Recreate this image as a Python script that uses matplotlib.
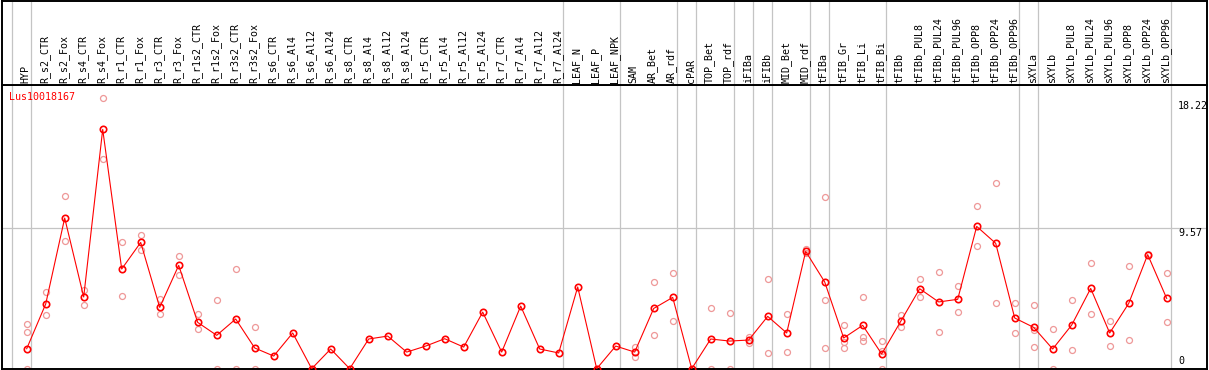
import numpy as np
import matplotlib
matplotlib.use("Agg")
import matplotlib.pyplot as plt

gene = "Lus10018167"

samples = ["HYP", "R_s2_CTR", "R_s2_Fox", "R_s4_CTR", "R_s4_Fox", "R_r1_CTR", "R_r1_Fox",
           "R_r3_CTR", "R_r3_Fox", "R_r1s2_CTR", "R_r1s2_Fox", "R_r3s2_CTR", "R_r3s2_Fox",
           "R_s6_CTR", "R_s6_Al4", "R_s6_Al12", "R_s6_Al24", "R_s8_CTR", "R_s8_Al4",
           "R_s8_Al12", "R_s8_Al24", "R_r5_CTR", "R_r5_Al4", "R_r5_Al12", "R_r5_Al24",
           "R_r7_CTR", "R_r7_Al4", "R_r7_Al12", "R_r7_Al24", "LEAF_N", "LEAF_P", "LEAF_NPK",
           "SAM", "AR_Bet", "AR_rdf", "cPAR", "TOP_Bet", "TOP_rdf", "iFIBa", "iFIBb",
           "MID_Bet", "MID_rdf", "tFIBa", "tFIB_Gr", "tFIB_Li", "tFIB_Bi", "tFIBb",
           "tFIBb_PUL8", "tFIBb_PUL24", "tFIBb_PUL96", "tFIBb_OPP8", "tFIBb_OPP24",
           "tFIBb_OPP96", "sXYLa", "sXYLb", "sXYLb_PUL8", "sXYLb_PUL24", "sXYLb_PUL96",
           "sXYLb_OPP8", "sXYLb_OPP24", "sXYLb_OPP96"]

means = [1.36, 4.40, 10.25, 4.88, 16.28, 6.78, 8.59, 4.17, 7.03, 3.15, 2.27, 3.38, 1.41,
         0.86, 2.43, 0.0, 1.34, 0.0, 2.02, 2.22, 1.13, 1.54, 2.04, 1.47, 3.85, 1.13, 4.26,
         1.34, 1.07, 5.56, 0.0, 1.54, 1.13, 4.10, 4.85, 0.0, 2.02, 1.88, 1.95, 3.56, 2.43,
         7.98, 5.90, 2.09, 2.95, 1.00, 3.22, 5.44, 4.54, 4.72, 9.68, 8.53, 3.45, 2.81, 1.34,
         2.97, 5.46, 2.43, 4.44, 7.76, 4.78]

# replicate values per sample (empty = none shown)
replicates = [[3.04, 2.47, 0.0], [5.22, 3.63], [11.72, 8.66], [5.35, 4.33], [18.39, 14.26],
              [8.59, 4.92], [9.09, 8.05], [4.74, 3.70], [7.64, 6.35], [3.70, 2.68],
              [4.67, 0.0], [6.76, 0.0], [2.83, 0.0], [], [], [], [], [], [], [], [], [],
              [], [], [], [], [], [], [], [], [], [],
              [1.50, 0.77], [5.90, 2.27], [6.51, 3.24], [], [4.10, 0.0], [3.79, 0.0],
              [2.13, 1.77], [6.08, 1.04], [3.70, 1.11], [8.14, 7.87], [11.66, 4.67, 1.41],
              [2.95, 1.81, 1.41], [4.85, 2.18, 1.88], [1.88, 1.22, 0.0], [3.65, 2.83],
              [6.08, 4.85], [6.55, 2.49], [5.60, 3.83], [11.07, 8.37], [12.61, 4.44],
              [4.44, 2.40], [4.31, 2.63, 1.45], [2.68, 0.0], [4.67, 1.25], [7.19, 3.70],
              [3.24, 1.54], [6.98, 1.93], [7.80], [6.51, 3.15]]

# grey separators come after these sample indices
group_ends = [-1, 0, 28, 31, 34, 35, 37, 38, 39, 41, 42, 45, 52, 53, 60]

y_labels = [18.22, 9.57, 0]

W, H = 1209, 370
fig = plt.figure(figsize=(W / 100, H / 100), dpi=100)
mono = "DejaVu Sans Mono"
fs = 7.2

# pixel layout
left_px, right_px = 1.5, 1207
head_px, bottom_px = 85, 369
x0_px, step = 26.7, 19.0
xmin = (left_px - x0_px) / step
xmax = (right_px - x0_px) / step
zero_px, scale = 368.7, 14.7
ymin = (zero_px - bottom_px) / scale
ymax = (zero_px - head_px) / scale

ax = fig.add_axes([left_px / W, (H - bottom_px) / H, (right_px - left_px) / W,
                   (bottom_px - head_px) / H])
hx = fig.add_axes([left_px / W, (H - head_px) / H, (right_px - left_px) / W,
                   (head_px - 0.5) / H])

for a in (ax, hx):
    a.set_xlim(xmin, xmax)
    a.set_xticks([])
    a.set_yticks([])
    for s in a.spines.values():
        s.set_color("black")
        s.set_linewidth(1.4)
    for g in group_ends:
        a.axvline(g + 4 / step, color="#c4c4c4", lw=0.9, zorder=0)

ax.set_ylim(ymin, ymax)
hx.set_ylim(0, 1)
ax.axhline(9.57, color="#c4c4c4", lw=0.9, zorder=0)

x = np.arange(len(samples))
for i, reps in enumerate(replicates):
    if reps:
        ax.plot([i] * len(reps), reps, "o", ms=4.3, mfc="none", mec="#ee9898", mew=0.9,
                zorder=2)
ax.plot(x, means, "-", color="red", lw=0.8, zorder=3)
ax.plot(x, means, "o", ms=4.6, mfc="none", mec="red", mew=1.2, zorder=4)

for i, name in enumerate(samples):
    hx.text(i - 0.05, 2 / (head_px - 0.5), name, rotation=90, ha="center", va="bottom",
            family=mono, fontsize=fs, color="black")

ax.text(xmin + 8 / step, ymax - 12 / scale, gene, color="red", family=mono, fontsize=fs,
        ha="left", va="center")

lab_x = (1178 - x0_px) / step
for v in y_labels:
    txt = "0" if v == 0 else f"{v:.2f}"
    if v == 0:
        ax.text(lab_x, v + 3 / scale, txt, family=mono, fontsize=fs, ha="left", va="bottom")
    else:
        ax.text(lab_x, v - 0.3 / scale, txt, family=mono, fontsize=fs, ha="left", va="top")

fig.savefig("out.png", dpi=100)
